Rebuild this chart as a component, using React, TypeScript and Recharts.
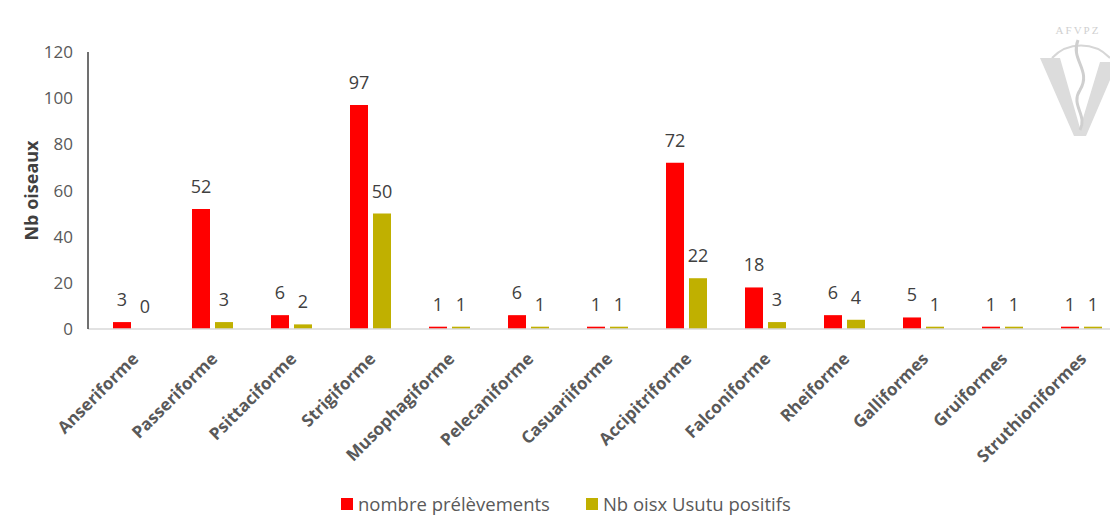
import { Bar, BarChart, LabelList, XAxis, YAxis } from "recharts";

const categories = [
  "Anseriforme",
  "Passeriforme",
  "Psittaciforme",
  "Strigiforme",
  "Musophagiforme",
  "Pelecaniforme",
  "Casuariiforme",
  "Accipitriforme",
  "Falconiforme",
  "Rheiforme",
  "Galliformes",
  "Gruiformes",
  "Struthioniformes",
];
const prelevements = [3, 52, 6, 97, 1, 6, 1, 72, 18, 6, 5, 1, 1];
const positifs = [0, 3, 2, 50, 1, 1, 1, 22, 3, 4, 1, 1, 1];
const yTicks = [0, 20, 40, 60, 80, 100, 120];

const series = [
  { key: "prelevements", name: "nombre prélèvements", color: "#FF0000" },
  { key: "positifs", name: "Nb oisx Usutu positifs", color: "#C0B000" },
];

const data = categories.map((c, i) => ({
  name: c,
  prelevements: prelevements[i],
  positifs: positifs[i],
}));

const FONT = "'Open Sans', 'Liberation Sans', sans-serif";

const CategoryTick = (props: any) => {
  const { x, y, payload } = props;
  return (
    <g transform={`translate(${x + 6},${y + 23})`}>
      <text
        x={0}
        y={0}
        transform="rotate(-45)"
        textAnchor="end"
        fill="#595959"
        fontSize={17}
        fontWeight={700}
        fontFamily={FONT}
      >
        {payload.value}
      </text>
    </g>
  );
};

const YTitle = (props: any) => {
  const vb = props.viewBox || { x: 0, y: 52, height: 277 };
  const cx = vb.x + 31;
  const cy = vb.y + vb.height / 2;
  return (
    <text
      x={cx}
      y={cy}
      transform={`rotate(-90, ${cx}, ${cy})`}
      textAnchor="middle"
      dominantBaseline="central"
      fill="#404040"
      fontSize={18}
      fontWeight={700}
      fontFamily={FONT}
    >
      Nb oiseaux
    </text>
  );
};

export default function App() {
  return (
    <div
      style={{
        position: "absolute",
        left: 0,
        top: 0,
        width: 1110,
        height: 515,
        overflow: "hidden",
        background: "#fff",
        fontFamily: FONT,
      }}
    >
      <BarChart
        width={1125}
        height={515}
        data={data}
        margin={{ top: 52, right: 4, bottom: 0, left: 0 }}
        barSize={18}
        barGap={5}
      >
        <XAxis
          dataKey="name"
          interval={0}
          height={186}
          tickLine={false}
          axisLine={{ stroke: "#D9D9D9", strokeWidth: 1.5 }}
          padding={{ left: 6, right: 0 }}
          tick={<CategoryTick />}
        />
        <YAxis
          width={88}
          domain={[0, 120]}
          ticks={yTicks}
          interval={0}
          tickLine={false}
          tickMargin={9}
          axisLine={{ stroke: "#404040", strokeWidth: 1.5 }}
          tick={{ fill: "#595959", fontSize: 17, fontFamily: FONT }}
          label={<YTitle />}
        />
        {series.map((s) => (
          <Bar
            key={s.key}
            dataKey={s.key}
            name={s.name}
            fill={s.color}
            minPointSize={0.01}
            isAnimationActive={false}
          >
            <LabelList
              dataKey={s.key}
              position="top"
              offset={16}
              fill="#404040"
              fontSize={18}
              fontFamily={FONT}
            />
          </Bar>
        ))}
      </BarChart>

      <div
        style={{
          position: "absolute",
          top: 494,
          left: 341,
          height: 20,
          lineHeight: "20px",
          display: "flex",
          alignItems: "center",
          gap: 36,
          fontSize: 18.5,
          color: "#595959",
          whiteSpace: "nowrap",
        }}
      >
        {series.map((s) => (
          <span key={s.key} style={{ display: "flex", alignItems: "center", gap: 5 }}>
            <span style={{ display: "inline-block", width: 12, height: 12, background: s.color }} />
            {s.name}
          </span>
        ))}
      </div>

      <svg style={{ position: "absolute", left: 1030, top: 0 }} width={80} height={140}>
        <path d="M 22 58 A 40 40 0 0 1 80 58" fill="none" stroke="#D6D6D6" strokeWidth={2} />
        <text x={48} y={34} textAnchor="middle" fill="#D0D0D0" fontSize={11} fontFamily="serif" letterSpacing={2}>
          AFVPZ
        </text>
        <path d="M 10 58 L 30 58 L 50 128 L 70 62 L 80 62 L 80 80 L 56 136 L 44 136 Z" fill="#DCDCDC" />
        <path d="M 48 40 C 40 60, 62 70, 50 90 C 40 105, 58 115, 50 130" fill="none" stroke="#CFCFCF" strokeWidth={3} />
      </svg>
    </div>
  );
}
